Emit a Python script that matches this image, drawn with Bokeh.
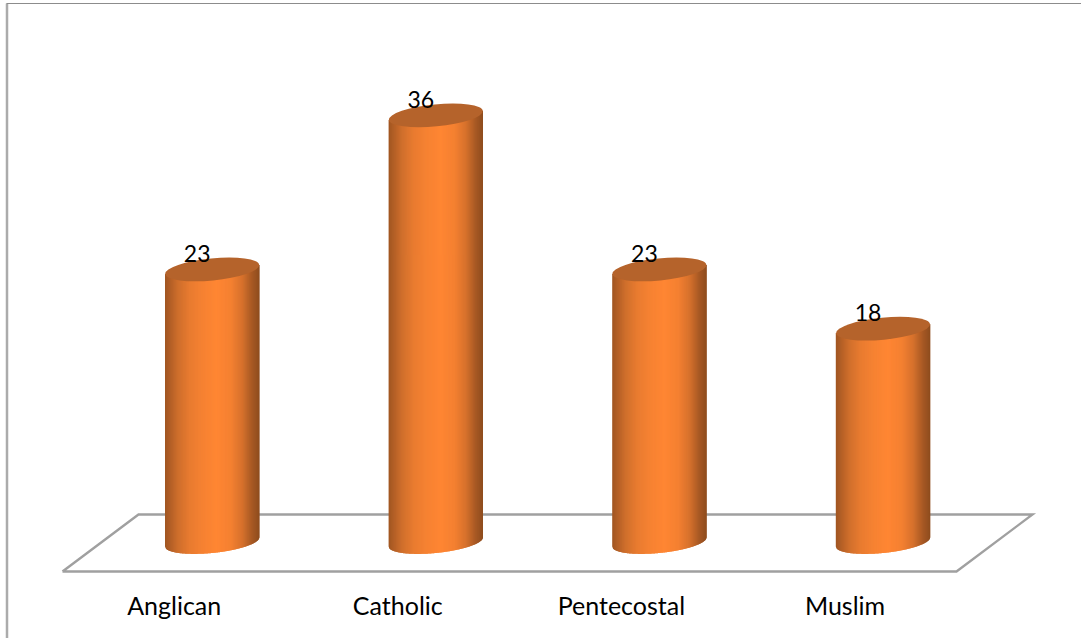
from bokeh.plotting import figure
from bokeh.models import ColumnDataSource, Range1d
from bokeh.core.properties import value
from bokeh.embed import file_html
from bokeh.resources import INLINE
import numpy as np

categories = ["Anglican", "Catholic", "Pentecostal", "Muslim"]
values = [23, 36, 23, 18]

W, H = 1081, 638
X0, DX = 211.7, 223.6      # pixel of first bar centre, bar spacing
Y0, DY = 541.5, 11.85      # pixel of value 0, pixels per unit
A, B, TILT = 47.2, 11.0, -9.0 / 93.0   # ellipse half axes, tilt (screen px)

def xd(px):
    return (np.asarray(px, dtype=float) - X0) / DX

def yd(py):
    return (Y0 - np.asarray(py, dtype=float)) / DY

p = figure(width=W, height=H, output_backend="svg", toolbar_location=None,
           x_range=Range1d(float(xd(0)), float(xd(W))),
           y_range=Range1d(float(yd(H)), float(yd(0))),
           min_border=0, outline_line_color=None)
p.xaxis.visible = False
p.yaxis.visible = False
p.xgrid.visible = False
p.ygrid.visible = False

# outer frame (top and left only)
p.line(xd([6.5, 6.5]), yd([3, 638]), line_color="#ABABAB", line_width=2.5)
p.line(xd([6, 1081]), yd([3, 3]), line_color="#8C8C8C", line_width=1.2)

# floor plane
plane_x = [62, 956, 1032, 138, 62]
plane_y = [571, 571, 514, 514, 571]
p.line(xd(plane_x), yd(plane_y), line_color="#A0A0A0", line_width=2.4, line_join="miter")

# cylinder shading
stops_t = [0.0, 0.06, 0.14, 0.26, 0.4, 0.55, 0.7, 0.82, 0.92, 1.0]
stops_rgb = np.array([
    (0xA0, 0x55, 0x22), (0xB4, 0x60, 0x27), (0xCF, 0x6F, 0x2C), (0xE8, 0x7B, 0x30),
    (0xF6, 0x82, 0x32), (0xFF, 0x86, 0x33), (0xF4, 0x80, 0x31), (0xD6, 0x71, 0x2C),
    (0xA8, 0x59, 0x24), (0x8E, 0x4C, 0x1E),
])
N = 96
edges = np.linspace(-A, A, N + 1)
xs, ys, cols = [], [], []
for i, v in enumerate(values):
    cx = X0 + i * DX
    ytop = Y0 - v * DY
    for k in range(N):
        l = edges[k]
        r = edges[min(k + 2, N)]
        t = (edges[k] + edges[k + 1]) / 2 / (2 * A) + 0.5
        c = [int(round(np.interp(t, stops_t, stops_rgb[:, j]))) for j in range(3)]
        dxs = np.linspace(l, r, 4)
        bottom = Y0 + TILT * dxs + B * np.sqrt(np.clip(1 - (dxs / A) ** 2, 0, 1))
        top = ytop + TILT * dxs
        xs.append(list(xd(np.r_[cx + dxs, cx + dxs[::-1]])))
        ys.append(list(yd(np.r_[top, bottom[::-1]])))
        cols.append("#%02x%02x%02x" % tuple(c))
p.patches(xs, ys, fill_color=cols, line_color=None)

src = ColumnDataSource(dict(x=list(range(len(values))), y=values, cat=categories,
                            lab=[str(v) for v in values], base=[0] * len(values)))

p.ellipse("x", "y", width=2 * A, height=2 * B, angle=float(np.arctan(-TILT)),
          width_units="screen", height_units="screen", source=src,
          fill_color="#B5632B", line_color=None)

p.text("x", "y", text="lab", source=src, x_offset=-15, y_offset=-16,
       text_align="center", text_baseline="middle", text_color="#000000",
       text_font=value("Lato"), text_font_size="23px")
p.text("x", "base", text="cat", source=src, x_offset=-38, y_offset=62.5,
       text_align="center", text_baseline="middle", text_color="#000000",
       text_font=value("Lato"), text_font_size="25px")

open("out.html", "w").write(file_html(p, INLINE))
